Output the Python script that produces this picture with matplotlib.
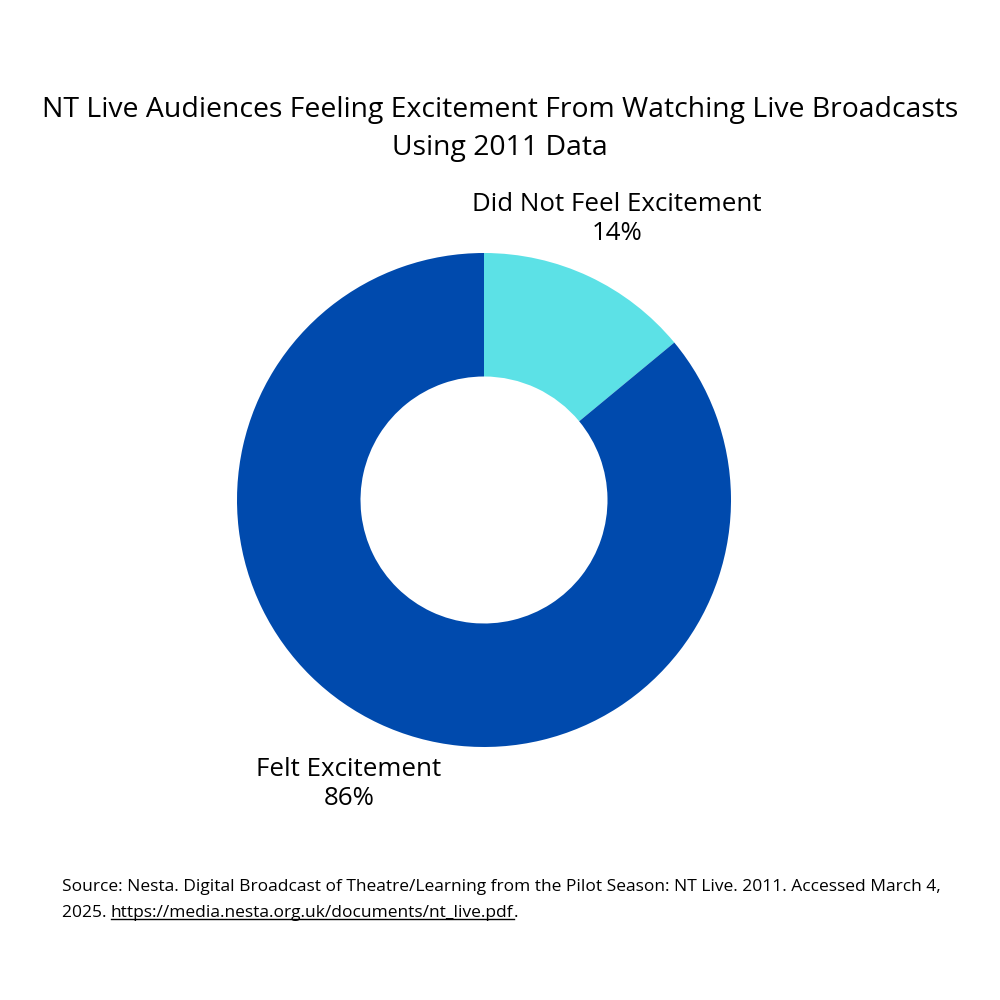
import matplotlib

matplotlib.use("Agg")
import matplotlib.pyplot as plt

plt.rcParams["font.family"] = ["Open Sans", "DejaVu Sans"]

# data
labels = ["Did Not Feel Excitement", "Felt Excitement"]
shares = [14, 86]
colors = ["#5CE1E6", "#004AAD"]

fig = plt.figure(figsize=(10, 10), dpi=100)
fig.patch.set_facecolor("white")

# donut: centre (484, 500) px, radius 247 px
cx, cy, r = 0.484, 0.5, 0.247
ax = fig.add_axes([cx - r, cy - r, 2 * r, 2 * r])
ax.pie(
    shares,
    colors=colors,
    startangle=90,
    counterclock=False,
    radius=1,
    wedgeprops=dict(width=0.5, linewidth=0),
)
ax.set_xlim(-1, 1)
ax.set_ylim(-1, 1)
ax.set_aspect("equal")
ax.axis("off")

fig.text(0.5, 1 - 0.129, "NT Live Audiences Feeling Excitement From Watching Live Broadcasts\nUsing 2011 Data",
         ha="center", va="center", fontsize=20.4, color="black", linespacing=1.52)

# slice labels
label_pos = [(0.617, 1 - 0.219), (0.349, 1 - 0.784)]
for (x, y), lab, v in zip(label_pos, labels, shares):
    fig.text(x, y, f"{lab}\n{v}%", ha="center", va="center", fontsize=18.6, color="black", linespacing=1.2)

# source
fs = 12.5
fig.text(0.062, 1 - 0.887, "Source: Nesta. Digital Broadcast of Theatre/Learning from the Pilot Season: NT Live. 2011. Accessed March 4,",
         ha="left", va="center", fontsize=fs, color="black")
t1 = fig.text(0.062, 1 - 0.913, "2025. ", ha="left", va="center", fontsize=fs, color="black")
fig.canvas.draw()
renderer = fig.canvas.get_renderer()
bb1 = t1.get_window_extent(renderer).transformed(fig.transFigure.inverted())
url = fig.text(bb1.x1, 1 - 0.913, "https://media.nesta.org.uk/documents/nt_live.pdf",
               ha="left", va="center", fontsize=fs, color="black")
bb2 = url.get_window_extent(renderer).transformed(fig.transFigure.inverted())
fig.text(bb2.x1, 1 - 0.913, ".", ha="left", va="center", fontsize=fs, color="black")
fig.add_artist(plt.Line2D([bb2.x0, bb2.x1], [bb2.y0 + 0.002, bb2.y0 + 0.002],
                          transform=fig.transFigure, color="black", lw=1.0))

fig.savefig("out.png", dpi=100, facecolor="white")
